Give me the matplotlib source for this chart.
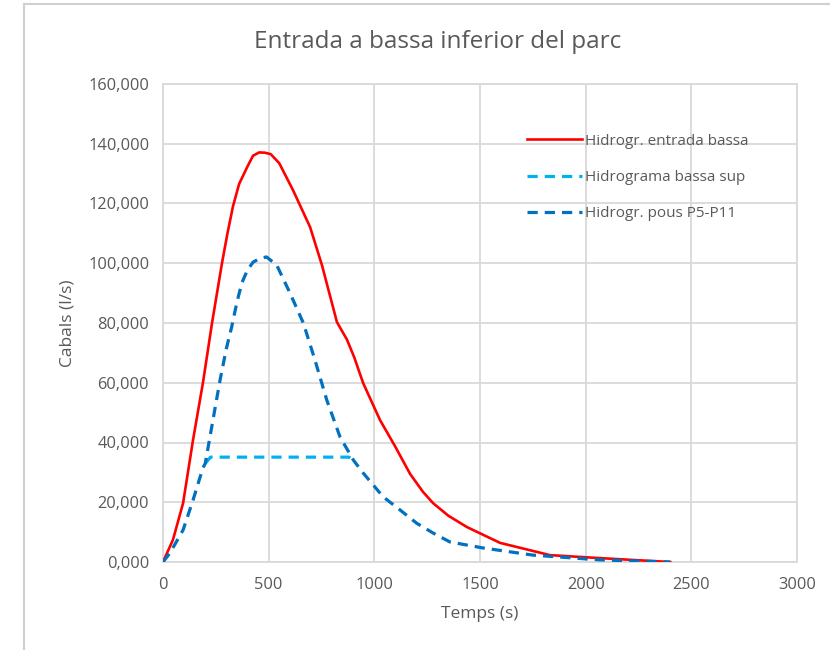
import matplotlib
matplotlib.use("Agg")
import matplotlib.pyplot as plt
from matplotlib.lines import Line2D

plt.rcParams['font.family'] = ['Open Sans', 'DejaVu Sans']

# hidrogrames (temps en s, cabal en milers de l/s)
t_entrada = [0, 19, 47, 95, 142, 189, 232, 279, 305, 331, 360, 397, 426, 455,
             483, 510, 550, 615, 696, 752, 823, 870, 905, 947, 1027, 1100, 1169,
             1230, 1278, 1350, 1438, 1595, 1831, 2068, 2400]
q_entrada = [0, 3.0, 7.4, 19.7, 40.8, 60.0, 80.0, 100.0, 110.0, 119.0, 126.5,
             132.0, 136.0, 137.1, 137.0, 136.5, 133.5, 124.5, 112.1, 99.4, 80.3,
             74.5, 68.5, 59.9, 47.5, 38.5, 29.5, 23.5, 19.7, 15.5, 11.7, 6.4,
             2.3, 1.3, 0]

t_bassa_sup = [200, 225, 880, 910]
q_bassa_sup = [33.0, 35.1, 35.1, 33.5]

t_pous = [0, 33, 95, 142, 189, 200, 235, 270, 300, 325, 350, 373, 400, 427, 460,
          490, 538, 601, 664, 719, 775, 838, 901, 947, 1042, 1122, 1200, 1278,
          1358, 1514, 1751, 2068, 2400]
q_pous = [0, 3.0, 10.7, 20.7, 31.5, 33.0, 47.0, 60.9, 71.5, 78.7, 87.0, 93.4,
          97.8, 100.4, 101.7, 102.1, 99.4, 90.0, 80.0, 67.6, 54.2, 41.8, 34.1,
          29.8, 21.8, 17.4, 13.0, 9.7, 6.7, 4.7, 2.3, 0.7, 0]

x_ticks = [0, 500, 1000, 1500, 2000, 2500, 3000]
y_ticks = [0, 20, 40, 60, 80, 100, 120, 140, 160]

txt = '#595959'
grid = '#d9d9d9'

fig = plt.figure(figsize=(8.3, 6.5), dpi=100)
ax = fig.add_axes([163 / 830, 1 - 562 / 650, 634 / 830, 478 / 650])

ax.plot(t_entrada, q_entrada, color='#ff0000', lw=1.9,
        label='Hidrogr. entrada bassa', zorder=3)
ax.plot(t_bassa_sup, q_bassa_sup, color='#00b0f0', lw=2.3, dashes=(3.2, 2.2),
        label='Hidrograma bassa sup', zorder=4)
ax.plot(t_pous, q_pous, color='#0070c0', lw=2.3, dashes=(3.2, 2.2),
        label='Hidrogr. pous P5-P11', zorder=5)

ax.set_xlim(0, 3000)
ax.set_ylim(0, 160)
ax.set_xticks(x_ticks)
ax.set_xticklabels([str(v) for v in x_ticks])
ax.set_yticks(y_ticks)
ax.set_yticklabels([f"{v:.3f}".replace('.', ',') for v in y_ticks])
ax.tick_params(length=0, colors=txt, labelsize=11.8)
ax.tick_params(axis='x', pad=11)
ax.tick_params(axis='y', pad=10)
ax.grid(True, color=grid, lw=1.3)
ax.set_axisbelow(True)
for s in ax.spines.values():
    s.set_color(grid)
    s.set_linewidth(1.3)

ax.set_xlabel('Temps (s)', color=txt, fontsize=12.5, labelpad=9)
ax.set_ylabel('Cabals (l/s)', color=txt, fontsize=12.5, labelpad=9)
fig.text(0.527, 1 - 42 / 650, 'Entrada a bassa inferior del parc',
         color=txt, fontsize=17.5, ha='center', va='center')

leg = ax.legend(loc='upper left', bbox_to_anchor=(0.553, 0.925), frameon=False,
                fontsize=11, labelcolor=txt, handlelength=3.6,
                handletextpad=0.2, labelspacing=1.4)

# marc del gràfic
fig.add_artist(Line2D([24 / 830, 24 / 830], [0, 1 - 4 / 650],
                      transform=fig.transFigure, color='#d0d0d0', lw=1.5))
fig.add_artist(Line2D([24 / 830, 1], [1 - 4 / 650, 1 - 4 / 650],
                      transform=fig.transFigure, color='#d0d0d0', lw=1.5))

fig.savefig('out.png', dpi=100, facecolor='white')
